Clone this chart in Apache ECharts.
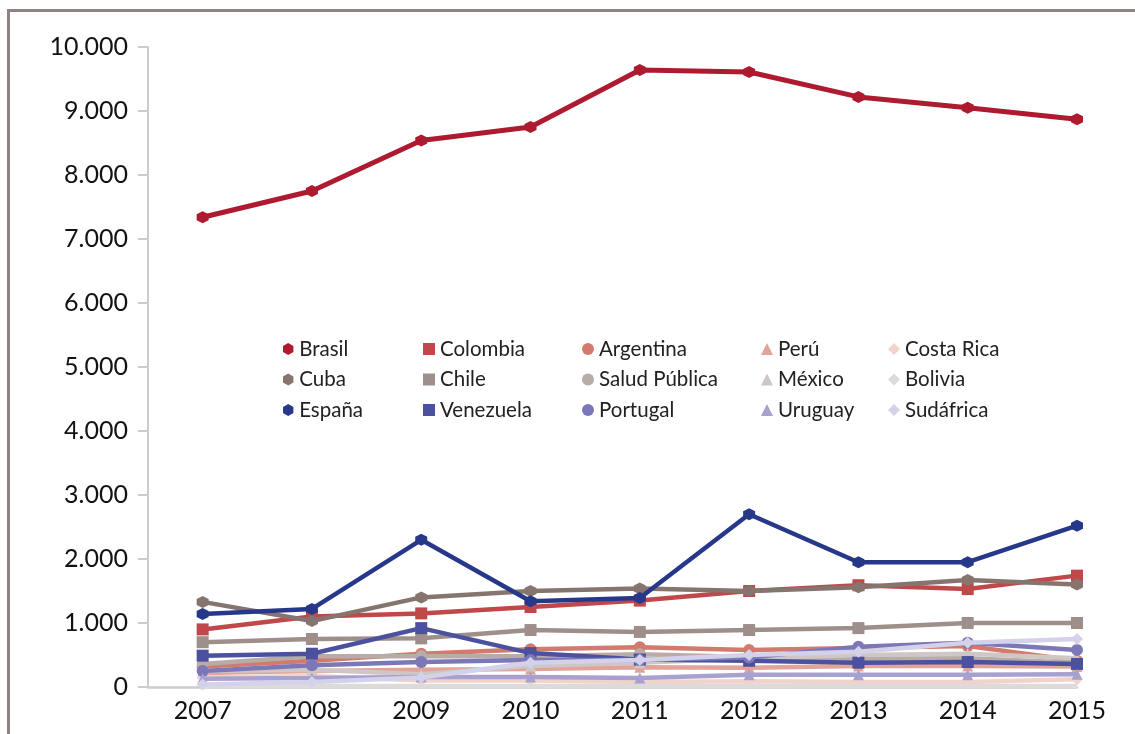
<!DOCTYPE html>
<html>
<head>
<meta charset="utf-8">
<script src="https://cdn.jsdelivr.net/npm/echarts@6/dist/echarts.min.js"></script>
<style>
  html, body { margin: 0; padding: 0; background: #ffffff; overflow: hidden; }
  #chart { width: 1135px; height: 734px; position: absolute; left: 0; top: 0; }
  #frame {
    position: absolute; left: 7px; top: 9px; right: -20px; bottom: -20px;
    border: 3px solid #8e8380; pointer-events: none;
  }
</style>
</head>
<body>
<div id="chart"></div>
<div id="frame"></div>
<script>
// Años del eje horizontal
const years = [2007, 2008, 2009, 2010, 2011, 2012, 2013, 2014, 2015];

// Valores por país / institución
const brasil       = [7340, 7750, 8540, 8750, 9640, 9610, 9220, 9050, 8870];
const colombia     = [900, 1100, 1150, 1250, 1350, 1500, 1590, 1530, 1740];
const argentina    = [320, 410, 520, 590, 620, 580, 610, 640, 410];
const peru         = [220, 250, 270, 280, 310, 300, 330, 330, 320];
const costaRica    = [150, 170, 100, 100, 80, 90, 80, 80, 120];
const cuba         = [1330, 1030, 1400, 1500, 1540, 1500, 1560, 1670, 1600];
const chile        = [700, 750, 760, 890, 860, 890, 920, 1000, 1000];
const saludPublica = [360, 480, 480, 480, 510, 470, 440, 450, 380];
const mexico       = [250, 270, 200, 330, 380, 450, 500, 520, 450];
const bolivia      = [15, 15, 15, 15, 15, 15, 15, 15, 15];
const espana       = [1140, 1220, 2300, 1340, 1390, 2700, 1950, 1950, 2520];
const venezuela    = [490, 520, 920, 530, 430, 410, 380, 390, 360];
const portugal     = [250, 340, 390, 420, 420, 460, 630, 690, 580];
const uruguay      = [130, 140, 155, 155, 140, 190, 190, 190, 200];
const sudafrica    = [40, 80, 150, 380, 420, 500, 550, 690, 750];

const HEX = 'path://M10,0 L18.66,5 L18.66,15 L10,20 L1.34,15 L1.34,5 Z';

// Nombre, valores, color y marcador de cada serie (orden de la leyenda por filas)
const seriesDefs = [
  ['Brasil', brasil, '#ae1a30', HEX],
  ['Colombia', colombia, '#c0474a', 'rect'],
  ['Argentina', argentina, '#d27a6d', 'circle'],
  ['Perú', peru, '#e2a39a', 'triangle'],
  ['Costa Rica', costaRica, '#f1d3cc', 'diamond'],
  ['Cuba', cuba, '#86756f', HEX],
  ['Chile', chile, '#9e8f8a', 'rect'],
  ['Salud Pública', saludPublica, '#b7aca8', 'circle'],
  ['México', mexico, '#cec7c5', 'triangle'],
  ['Bolivia', bolivia, '#dddbda', 'diamond'],
  ['España', espana, '#27388a', HEX],
  ['Venezuela', venezuela, '#4b519e', 'rect'],
  ['Portugal', portugal, '#7c78b8', 'circle'],
  ['Uruguay', uruguay, '#a7a1cf', 'triangle'],
  ['Sudáfrica', sudafrica, '#d4d1ea', 'diamond']
];

const FONT = 'Lato';

const series = seriesDefs.map(([name, vals, color, symbol], i) => ({
  name: name,
  type: 'line',
  data: years.map((y, k) => [y, vals[k]]),
  symbol: symbol,
  symbolSize: symbol === 'triangle' ? 11 : 12,
  showSymbol: name !== 'Bolivia',
  lineStyle: { color: color, width: name === 'Brasil' ? 5 : 4.5 },
  itemStyle: { color: color },
  z: 2 + i * 0.01,
  emphasis: { disabled: true },
  animation: false
}));

// Cinco columnas de leyenda, tres filas cada una
const colLefts = [278, 418, 577, 756, 883];
const legends = colLefts.map((left, c) => ({
  orient: 'vertical',
  left: left,
  top: 333,
  itemWidth: 12,
  itemHeight: 12,
  itemGap: 8.5,
  selectedMode: false,
  textStyle: { fontFamily: FONT, fontSize: 20.5, color: '#222222', lineHeight: 22 },
  data: [0, 5, 10].map(r => {
    const d = seriesDefs[r + c];
    return { name: d[0], icon: d[3], itemStyle: { color: d[2] } };
  })
}));

const chart = echarts.init(document.getElementById('chart'), null, { renderer: 'canvas' });
chart.setOption({
  backgroundColor: '#ffffff',
  animation: false,
  grid: { left: 148, top: 47, right: 58, bottom: 47, containLabel: false },
  legend: legends,
  xAxis: {
    type: 'value',
    min: 2006.5,
    max: 2015,
    interval: 0.5,
    axisLine: { show: true, lineStyle: { color: '#cccccc', width: 2.5 } },
    axisTick: { show: false },
    splitLine: { show: false },
    axisLabel: {
      fontFamily: FONT, fontSize: 25, color: '#111111', margin: 11,
      formatter: v => Number.isInteger(v) ? String(v) : ''
    }
  },
  yAxis: {
    type: 'value',
    min: 0,
    max: 10000,
    interval: 1000,
    axisLine: { show: true, lineStyle: { color: '#cccccc', width: 2 } },
    axisTick: { show: true, length: 10, lineStyle: { color: '#cccccc', width: 2 } },
    splitLine: { show: false },
    axisLabel: {
      fontFamily: FONT, fontSize: 25, color: '#111111', margin: 20,
      formatter: v => v === 0 ? '0' : String(v).replace(/\B(?=(\d{3})+(?!\d))/g, '.')
    }
  },
  series: series
});
</script>
</body>
</html>
